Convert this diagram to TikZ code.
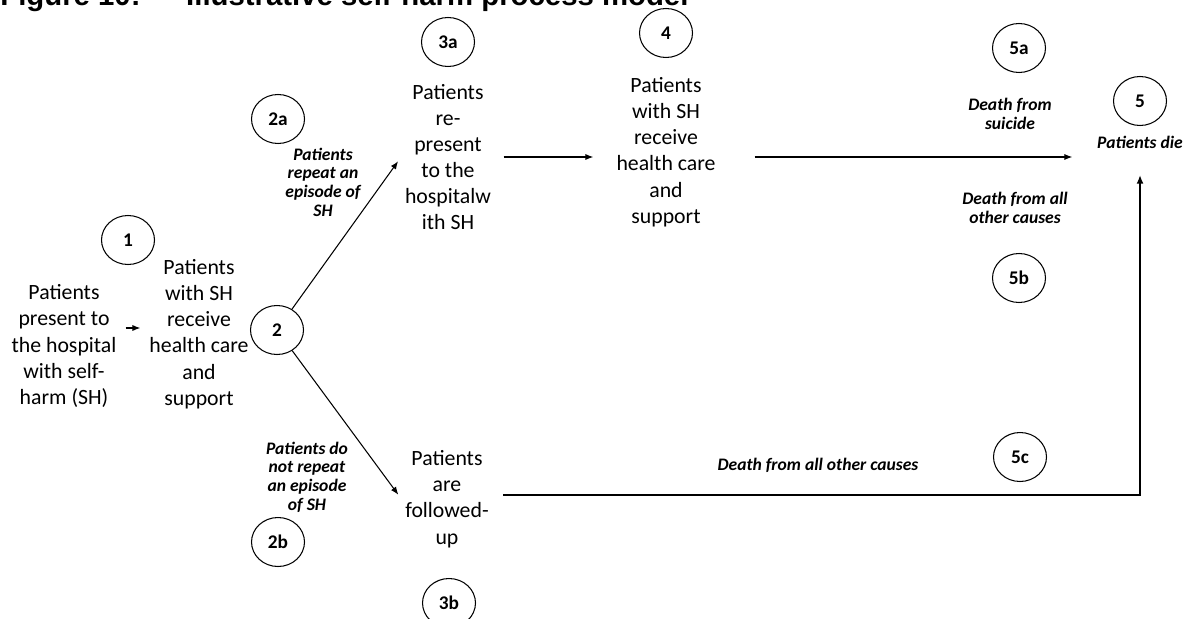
\documentclass[tikz,border=0pt]{standalone}
\usepackage{fontspec}
\setmainfont{Carlito}
\newfontfamily\captionfont{Liberation Sans}
\usepackage{tikz}
\usetikzlibrary{arrows, arrows.meta, shapes.geometric}
\tikzset{stage/.style = {shape = ellipse, draw, line width = 0.6pt, minimum width = 1.06cm, minimum height = 0.98cm, inner sep = 0pt, font = \fontsize{11}{13}\selectfont\bfseries}}
\tikzset{box/.style = {align = center, inner sep = 2pt, font = \fontsize{12.4}{14.9}\selectfont}}
\tikzset{note/.style = {align = center, inner sep = 2pt, font = \fontsize{10}{10.6}\selectfont\bfseries\itshape}}
\tikzset{flow/.style = {-{Latex[length = 4.5pt, width = 3.5pt]}, line width = 0.6pt}}
\tikzset{bigflow/.style = {-{Latex[length = 5pt, width = 4pt]}, line width = 1.1pt}}

\begin{document}
\begin{tikzpicture}[x = 0.02cm, y = -0.02cm]
				\useasboundingbox (0, 0) rectangle (1195, 618);
				\clip (0, 0) rectangle (1195, 618);

				\node[anchor = base west, inner sep = 0pt, font = \captionfont\bfseries\fontsize{16.7}{20}\selectfont] (title) at (0, 6) {Figure 10:\hspace{26pt}Illustrative self-harm process model};

				\node[stage] (s1) at (128, 240) {1};
				\node[stage] (s2) at (277, 330) {2};
				\node[stage] (s2a) at (278, 119) {2a};
				\node[stage] (s2b) at (278, 542) {2b};
				\node[stage] (s3a) at (448, 42) {3a};
				\node[stage] (s3b) at (449, 603) {3b};
				\node[stage] (s4) at (666, 33) {4};
				\node[stage] (s5a) at (1019, 48) {5a};
				\node[stage] (s5) at (1140, 101) {5};
				\node[stage] (s5b) at (1019, 278) {5b};
				\node[stage] (s5c) at (1020, 457) {5c};

				\node[box] (pres) at (64, 346) {Patients\\present to\\the hospital\\with self-\\harm (SH)};
				\node[box] (care) at (199, 334) {Patients\\with SH\\receive\\health care\\and\\support};
				\node[box] (rep) at (448, 157) {Patients\\re-\\present\\to the\\hospitalw\\ith SH};
				\node[box] (fol) at (447, 499) {Patients\\are\\followed-\\up};
				\node[box] (care2) at (666, 152) {Patients\\with SH\\receive\\health care\\and\\support};

				\node[note] (repnote) at (323, 182) {Patients\\repeat an\\episode of\\SH};
				\node[note] (folnote) at (307, 477) {Patients do\\not repeat\\an episode\\of SH};
				\node[note] (suicide) at (1010, 114) {Death from\\suicide};
				\node[note] (other) at (1015, 208) {Death from all\\other causes};
				\node[note] (other2) at (818, 465) {Death from all other causes};
				\node[note] (die) at (1140, 142) {Patients die};

				\coordinate (hop) at (0, 328);
				\coordinate (lane) at (0, 157);
				\coordinate (floor) at (0, 495);

				\draw[flow, shorten < = 3pt, shorten > = 3pt] (pres.east |- hop) -- (care.west |- hop);
				\draw[flow, shorten > = 3pt] (s2) -- (rep.west);
				\draw[flow, shorten > = 3pt] (s2) -- (fol.west);
				\draw[flow, shorten < = 5pt, shorten > = 11pt] (rep.east |- lane) -- (care2.west |- lane);
				\draw[flow, shorten < = 20pt, shorten > = 12pt] (care2.east |- lane) -- (die.west |- lane);
				\draw[bigflow, shorten < = 6pt, shorten > = 13pt] (fol.east |- floor) -| (die.south);
			\end{tikzpicture}
\end{document}
